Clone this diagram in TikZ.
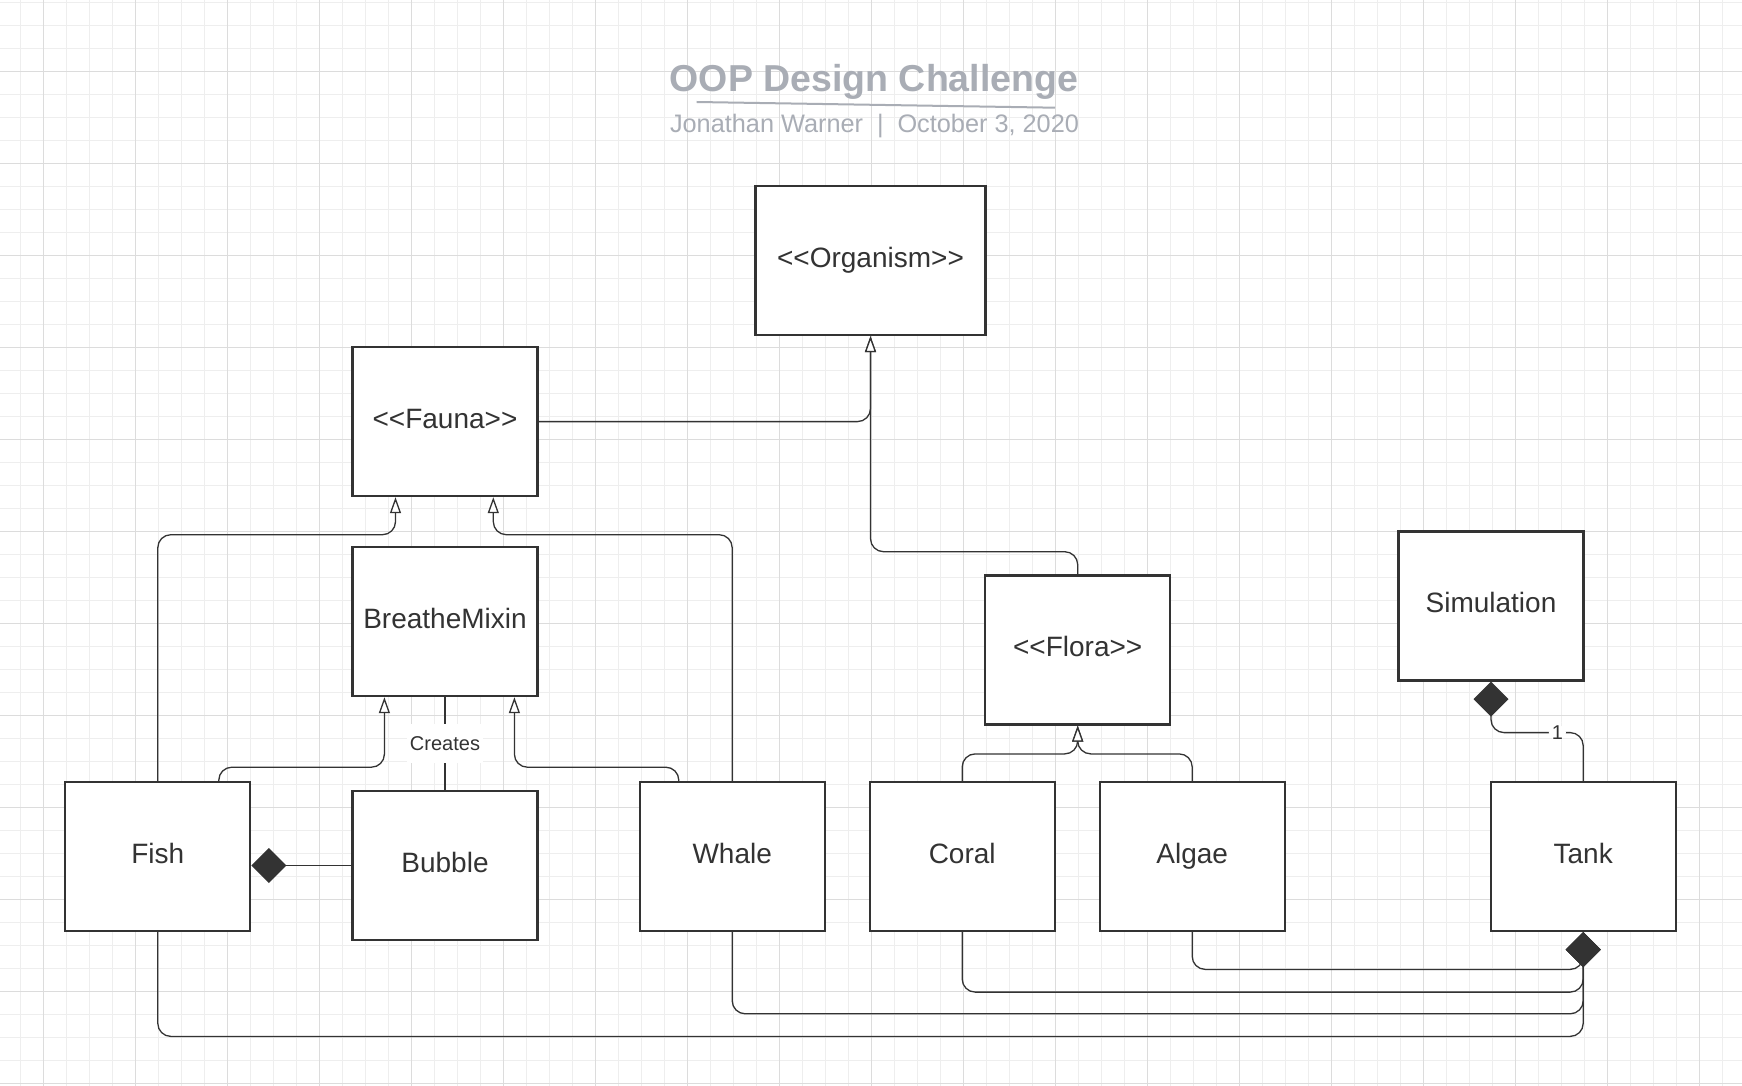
\documentclass[tikz,border=0pt]{standalone}
\usepackage{fontspec}
\setmainfont{Liberation Sans}
\usepackage{xcolor}
\usetikzlibrary{arrows.meta, calc}

\definecolor{inkgray}{HTML}{333333}
\definecolor{titlegray}{HTML}{A9ADB5}
\definecolor{minorgrid}{HTML}{EEEEEE}
\definecolor{majorgrid}{HTML}{DCDCDC}

\tikzset{
    classbox/.style={draw=inkgray, line width=1.1pt, fill=white, minimum width=92.5pt,
        minimum height=74.5pt, inner sep=0pt, text height=11pt, text depth=4.2pt,
        text=inkgray, font=\fontsize{14}{17}\selectfont},
    inherit/.style={draw=inkgray, line width=0.65pt, rounded corners=6.5pt,
        -{Triangle[length=8pt, width=5.5pt, fill=white]}},
    compose/.style={draw=inkgray, line width=0.65pt, rounded corners=6.5pt,
        -{Diamond[length=17.5pt, width=17.5pt, fill=inkgray]}},
    assoc/.style={draw=inkgray, line width=0.65pt},
    linklabel/.style={fill=white, text=inkgray, font=\fontsize{10}{12}\selectfont, inner sep=1.5pt},
}

\begin{document}
\begin{tikzpicture}[x=0.5pt, y=-0.5pt]
    \useasboundingbox (0,0) rectangle (1742,1086);
    \fill[white] (0,0) rectangle (1742,1086);

    % Grid
    \foreach \k in {0,...,74} \draw[minorgrid, line width=0.5pt] (20.5+23*\k,0) -- (20.5+23*\k,1086);
    \foreach \k in {0,...,47} \draw[minorgrid, line width=0.5pt] (0,2.5+23*\k) -- (1742,2.5+23*\k);
    \foreach \k in {0,...,18} \draw[majorgrid, line width=0.5pt] (43.5+92*\k,0) -- (43.5+92*\k,1086);
    \foreach \k in {0,...,11} \draw[majorgrid, line width=0.5pt] (0,71.5+92*\k) -- (1742,71.5+92*\k);

    % Title
    \node[anchor=base, text=titlegray, font=\bfseries\fontsize{18.75}{22}\selectfont] (title) at (874,91.7) {OOP Design Challenge};
    \draw[titlegray, line width=1pt] (696.7,102) -- (1055,107.7);
    \node[anchor=base, text=titlegray, font=\fontsize{12.65}{15}\selectfont] (byline) at (874.5,132.3) {Jonathan Warner\hspace{0.55em}|\hspace{0.55em}October 3, 2020};

    % Classes
    \node[classbox, minimum width=115pt] (organism) at (870.5,260.5) {<{}<Organism>{}>};
    \node[classbox] (fauna) at (445,421.6) {<{}<Fauna>{}>};
    \node[classbox] (breathe) at (445,621.6) {BreatheMixin};
    \node[classbox] (flora) at (1077.7,650) {<{}<Flora>{}>};
    \node[classbox] (simulation) at (1491,606) {Simulation};
    \node[classbox] (fish) at (157.8,856.5) {Fish};
    \node[classbox] (bubble) at (445,865.5) {Bubble};
    \node[classbox] (whale) at (732.2,856.5) {Whale};
    \node[classbox] (coral) at (962.2,856.5) {Coral};
    \node[classbox] (algae) at (1192.2,856.5) {Algae};
    \node[classbox] (tank) at (1583.2,856.5) {Tank};

    % Inheritance
    \draw[inherit] (fauna.east) -| (organism.south);
    \draw[inherit] (flora.north) |- ($(organism.south)+(0,215.6)$) -- (organism.south);
    \draw[inherit] (fish.north) |- ($(fauna.south)+(-49.5,37.5)$) -- ($(fauna.south)+(-49.5,0)$);
    \draw[inherit] (whale.north) |- ($(fauna.south)+(48.3,37.5)$) -- ($(fauna.south)+(48.3,0)$);
    \draw[inherit] ($(fish.north)+(61,0)$) |- ($(breathe.south)+(-60.6,70)$) -- ($(breathe.south)+(-60.6,0)$);
    \draw[inherit] ($(whale.north)+(-53.4,0)$) |- ($(breathe.south)+(69.4,70)$) -- ($(breathe.south)+(69.4,0)$);
    \draw[inherit] (coral.north) |- ($(flora.south)+(0,28.3)$) -- (flora.south);
    \draw[inherit] (algae.north) |- ($(flora.south)+(0,28.3)$) -- (flora.south);

    % Association
    \draw[assoc] (breathe.south) -- node[linklabel, inner ysep=6pt] {Creates} (bubble.north);

    % Composition
    \draw[compose] (bubble.west) -- (bubble.west -| fish.east);
    \draw[compose] (tank.north) |- node[linklabel, pos=0.64] {1} ($(simulation.south)+(0,51)$) -- (simulation.south);
    \draw[compose] (algae.south) [rounded corners=6.5pt] |- ($(tank.south)+(0,37.3)$) [sharp corners] -- (tank.south);
    \draw[compose] (coral.south) |- ($(tank.south)+(0,60)$) -- (tank.south);
    \draw[compose] (whale.south) |- ($(tank.south)+(0,81.7)$) -- (tank.south);
    \draw[compose] (fish.south) |- ($(tank.south)+(0,104.3)$) -- (tank.south);
\end{tikzpicture}
\end{document}
